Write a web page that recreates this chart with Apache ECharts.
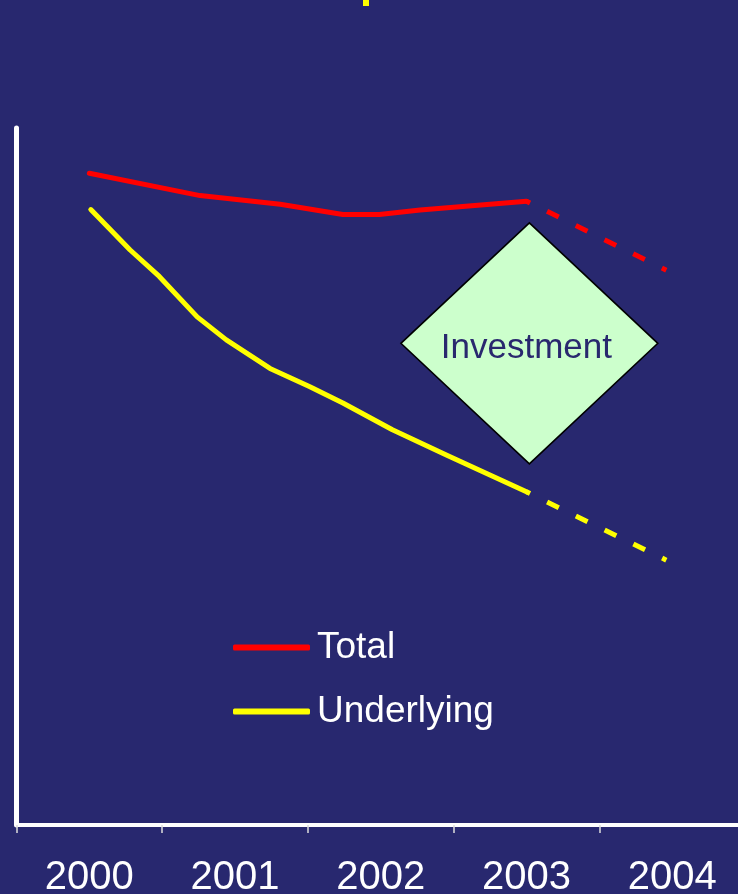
<!DOCTYPE html>
<html>
<head>
<meta charset="utf-8">
<script src="https://cdn.jsdelivr.net/npm/echarts@6/dist/echarts.min.js"></script>
<style>
html,body{margin:0;padding:0;background:#28286f;}
#chart{width:738px;height:894px;}
</style>
</head>
<body>
<div id="chart"></div>
<script>
// Category tick labels
var years = ['2000', '2001', '2002', '2003', '2004'];

// Total (solid, actual)
var totalYears  = [2000.00, 2000.76, 2001.31, 2001.74, 2001.99, 2002.27, 2003.00];
var totalValues = [93.5, 90.3, 89.05, 87.6, 87.6, 88.25, 89.5];
// Total (dashed, projection)
var totalProjYears  = [2003.00, 2003.96];
var totalProjValues = [89.5, 79.6];

// Underlying (solid, actual)
var underlyingYears  = [2000.01, 2000.28, 2000.48, 2000.74, 2000.94, 2001.24, 2001.51, 2001.74, 2002.08, 2002.45, 2003.00];
var underlyingValues = [88.3, 82.5, 78.7, 72.9, 69.6, 65.5, 62.9, 60.55, 56.7, 53.1, 47.8];
// Underlying (dashed, projection)
var underlyingProjYears  = [2003.00, 2003.96];
var underlyingProjValues = [47.8, 38.0];

// Annotation anchor
var investmentPoint = [2003.02, 69.1];
var investmentLabel = 'Investment';

function zip(a, b) { return a.map(function (v, i) { return [v, b[i]]; }); }

var FONT = "'Liberation Sans', Arial, sans-serif";
var chart = echarts.init(document.getElementById('chart'), null, {renderer: 'canvas'});

chart.setOption({
  backgroundColor: '#28286f',
  animation: false,
  textStyle: {fontFamily: FONT},
  graphic: [{
    type: 'rect', left: 363, top: 0,
    shape: {width: 6, height: 6},
    style: {fill: '#ffff00'}
  }],
  legend: {
    data: ['Total', 'Underlying'],
    orient: 'vertical',
    left: 233, top: 629, padding: 0,
    itemWidth: 77, itemHeight: 6, itemGap: 27,
    icon: 'roundRect',
    textStyle: {color: '#ffffff', fontSize: 37, fontFamily: FONT, padding: [0, 0, 0, 2]},
    selectedMode: false
  },
  grid: {left: 16.5, width: 728.5, top: 128, bottom: 69, containLabel: false, outerBoundsMode: 'none'},
  xAxis: [{
    type: 'category',
    data: years,
    boundaryGap: true,
    axisLine: {show: true, lineStyle: {color: '#ffffff', width: 4}},
    axisTick: {show: true, length: 8, lineStyle: {color: '#dddddd', width: 1.5}},
    axisLabel: {color: '#ffffff', fontSize: 40, margin: 33, fontFamily: FONT},
    splitLine: {show: false}
  }, {
    type: 'value',
    min: 1999.5, max: 2004.5,
    show: false
  }],
  yAxis: {
    type: 'value', min: 0, max: 100,
    axisLine: {show: true, lineStyle: {color: '#ffffff', width: 5, cap: 'round'}},
    axisTick: {show: false},
    axisLabel: {show: false},
    splitLine: {show: false}
  },
  series: [{
    name: 'Total', type: 'line', xAxisIndex: 1,
    data: zip(totalYears, totalValues),
    showSymbol: false, symbol: 'none',
    itemStyle: {color: '#ff0000'},
    lineStyle: {color: '#ff0000', width: 5, cap: 'round', join: 'round'}
  }, {
    name: 'Total projection', type: 'line', xAxisIndex: 1,
    data: zip(totalProjYears, totalProjValues),
    showSymbol: false, symbol: 'none',
    lineStyle: {color: '#ff0000', width: 5, type: [13, 19], dashOffset: 9, cap: 'butt'},
    markPoint: {
      symbol: 'diamond',
      symbolSize: [257, 241],
      itemStyle: {color: '#ccffcc', borderColor: '#000000', borderWidth: 1.5},
      label: {show: true, position: 'inside', color: '#29286e', fontSize: 35, fontFamily: FONT, offset: [-3, 5], formatter: investmentLabel},
      data: [{coord: investmentPoint, name: investmentLabel}]
    }
  }, {
    name: 'Underlying', type: 'line', xAxisIndex: 1,
    data: zip(underlyingYears, underlyingValues),
    showSymbol: false, symbol: 'none',
    itemStyle: {color: '#ffff00'},
    lineStyle: {color: '#ffff00', width: 5, cap: 'round', join: 'round'}
  }, {
    name: 'Underlying projection', type: 'line', xAxisIndex: 1,
    data: zip(underlyingProjYears, underlyingProjValues),
    showSymbol: false, symbol: 'none',
    lineStyle: {color: '#ffff00', width: 5, type: [13, 19], dashOffset: 9, cap: 'butt'}
  }]
});
</script>
</body>
</html>
